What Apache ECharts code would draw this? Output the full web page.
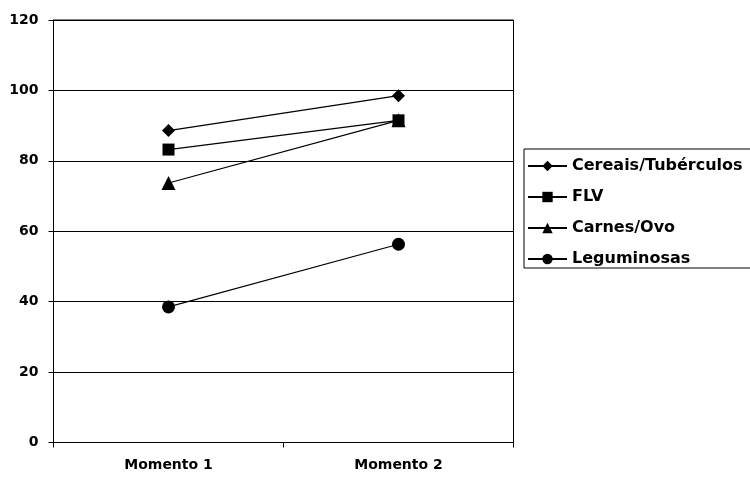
<!DOCTYPE html>
<html>
<head>
<meta charset="utf-8">
<script src="https://cdn.jsdelivr.net/npm/echarts@6/dist/echarts.min.js"></script>
<style>
  html, body { margin: 0; padding: 0; background: #fff; }
  #chart { width: 750px; height: 479px; }
</style>
</head>
<body>
<div id="chart"></div>
<script>
// Categories and group values
const categories = ['Momento 1', 'Momento 2'];
const cereais = [88.6, 98.5];
const flv = [83.2, 91.5];
const carnes = [73.7, 91.5];
const leguminosas = [38.5, 56.3];

const seriesNames = ['Cereais/Tubérculos', 'FLV', 'Carnes/Ovo', 'Leguminosas'];
const seriesData = [cereais, flv, carnes, leguminosas];
const seriesSymbols = ['diamond', 'rect', 'triangle', 'circle'];
const symbolSizes = [13, 12, 14, 13];

const chart = echarts.init(document.getElementById('chart'));

const series = seriesNames.map((name, i) => ({
  name: name,
  type: 'line',
  data: seriesData[i],
  symbol: seriesSymbols[i],
  symbolSize: symbolSizes[i],
  showAllSymbol: true,
  itemStyle: { color: '#000' },
  lineStyle: { color: '#000', width: 1.2 },
  emphasis: { disabled: true },
  z: 2 + i
}));

chart.setOption({
  animation: false,
  backgroundColor: '#fff',
  grid: {
    left: 53.5,
    right: 236.5,
    top: 20,
    bottom: 36.5,
    show: true,
    borderColor: '#000',
    borderWidth: 1,
    backgroundColor: 'transparent'
  },
  legend: {
    orient: 'vertical',
    left: 524,
    top: 149,
    padding: [9, 40, 1, 3],
    itemGap: 15,
    itemWidth: 39,
    itemHeight: 13,
    borderColor: '#000',
    borderWidth: 1,
    textStyle: {
      fontFamily: 'DejaVu Sans',
      fontWeight: 'bold',
      fontSize: 16,
      color: '#000'
    },
    data: seriesNames
  },
  xAxis: {
    type: 'category',
    data: categories,
    boundaryGap: true,
    axisLine: { lineStyle: { color: '#000', width: 1 } },
    axisTick: { show: true, alignWithLabel: false, length: 5, lineStyle: { color: '#000' } },
    axisLabel: {
      margin: 16,
      fontFamily: 'DejaVu Sans',
      fontWeight: 'bold',
      fontSize: 14,
      color: '#000'
    },
    splitLine: { show: false }
  },
  yAxis: {
    type: 'value',
    min: 0,
    max: 120,
    interval: 20,
    axisLine: { show: true, lineStyle: { color: '#000', width: 1 } },
    axisTick: { show: true, length: 5, lineStyle: { color: '#000' } },
    axisLabel: {
      margin: 15,
      fontFamily: 'DejaVu Sans',
      fontWeight: 'bold',
      fontSize: 14,
      color: '#000'
    },
    splitLine: { show: true, lineStyle: { color: '#000', width: 1 } }
  },
  series: series
});
</script>
</body>
</html>
